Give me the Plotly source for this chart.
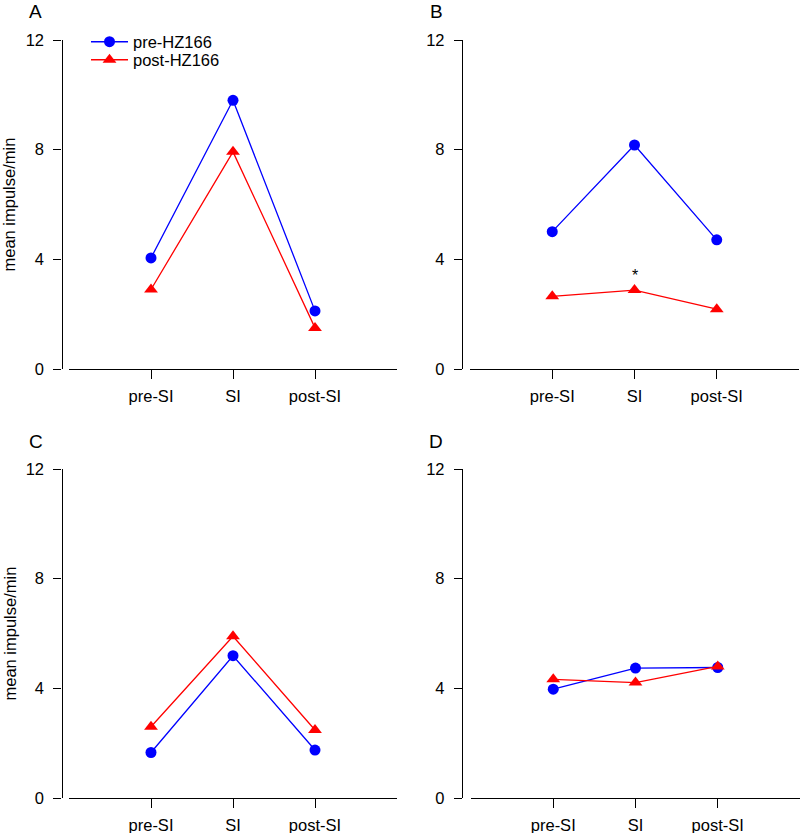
import plotly.graph_objects as go

categories = ["pre-SI", "SI", "post-SI"]
series_names = ["pre-HZ166", "post-HZ166"]
yticks = [0, 4, 8, 12]

A_pre = [4.05, 9.80, 2.12]
A_post = [2.90, 7.92, 1.50]
B_pre = [5.01, 8.17, 4.71]
B_post = [2.65, 2.88, 2.18]
C_pre = [1.66, 5.19, 1.75]
C_post = [2.60, 5.90, 2.48]
D_pre = [3.97, 4.74, 4.76]
D_post = [4.33, 4.21, 4.80]

panel_labels = ["A", "B", "C", "D"]
panels = [(A_pre, A_post), (B_pre, B_post), (C_pre, C_post), (D_pre, D_post)]

W, H = 800, 833
FONT = "Arial, Liberation Sans, sans-serif"
FS = 16.5

# pixel geometry: (x_axis_left, x_axis_right, yaxis_x, y_top_px, y_bottom_px)
geom = [
    (69, 397, 61.5, 40, 369),
    (470, 799, 462, 40, 369),
    (69, 397, 61.5, 469, 798),
    (471, 800, 462, 469, 798),
]

xs = [i + 1 for i in range(len(categories))]

fig = go.Figure()
layout = dict(
    width=W, height=H, margin=dict(l=0, r=0, t=0, b=0, autoexpand=False),
    plot_bgcolor="white", paper_bgcolor="white",
    font=dict(family=FONT, size=FS, color="black"),
    showlegend=True,
)

annotations = []
for k, ((pre, post), (xl, xr, yx, yt, yb)) in enumerate(zip(panels, geom)):
    n = "" if k == 0 else str(k + 1)
    xa, ya = "x" + n, "y" + n
    fig.add_trace(go.Scatter(
        x=xs, y=pre, mode="lines+markers", name=series_names[0],
        line=dict(color="#0000ff", width=1.3),
        marker=dict(symbol="circle", size=11, color="#0000ff"),
        xaxis=xa, yaxis=ya, showlegend=(k == 0), legend="legend",
    ))
    fig.add_trace(go.Scatter(
        x=xs, y=post, mode="lines+markers", name=series_names[1],
        line=dict(color="#ff0000", width=1.3),
        marker=dict(symbol="triangle-up", size=12, color="#ff0000"),
        xaxis=xa, yaxis=ya, showlegend=(k == 0), legend="legend2",
    ))
    layout["xaxis" + n] = dict(
        domain=[xl / W, xr / W], range=[0, 4], anchor=ya, automargin=False,
        tickvals=xs, ticktext=categories, showline=True, linecolor="black",
        linewidth=1.3, ticks="outside", ticklen=9, tickwidth=1.3, tickcolor="black",
        showgrid=False, zeroline=False, tickfont=dict(size=FS, color="black"),
        ticklabelstandoff=3,
    )
    layout["yaxis" + n] = dict(
        domain=[(H - yb) / H, (H - yt) / H], range=[0, 12], anchor="free",
        automargin=False,
        position=yx / W, tickvals=yticks, showline=True, linecolor="black",
        linewidth=1.3, ticks="outside", ticklen=8, tickwidth=1.3, tickcolor="black",
        showgrid=False, zeroline=False, tickfont=dict(size=FS, color="black"),
        ticklabelstandoff=6,
    )
    # panel label
    annotations.append(dict(
        text=panel_labels[k], xref="paper", yref="paper",
        x=(yx - 26) / W, y=(H - (yt - 28)) / H, xanchor="center", yanchor="middle",
        showarrow=False, font=dict(size=19, color="black"),
    ))
    if k in (0, 2):
        annotations.append(dict(
            text="mean impulse/min", xref="paper", yref="paper",
            x=9 / W, y=(H - ((yt + yb) / 2 - 0)) / H, textangle=-90,
            xanchor="center", yanchor="middle", showarrow=False,
            font=dict(size=FS, color="black"),
        ))

# significance mark in panel B
annotations.append(dict(
    text="*", xref="x2", yref="y2", x=2, y=3.4, showarrow=False,
    xanchor="center", yanchor="middle", font=dict(size=16, color="black"),
))

layout["annotations"] = annotations
layout["legend"] = dict(x=86 / W, y=(H - 42) / H, xanchor="left", yanchor="middle",
                        bgcolor="rgba(0,0,0,0)", font=dict(size=FS), itemwidth=37)
layout["legend2"] = dict(x=86 / W, y=(H - 60) / H, xanchor="left", yanchor="middle",
                         bgcolor="rgba(0,0,0,0)", font=dict(size=FS), itemwidth=37)

fig.update_layout(**layout)
fig.write_html("out.html", config={"displayModeBar": False},
               post_script="document.body.style.margin='0px';")
